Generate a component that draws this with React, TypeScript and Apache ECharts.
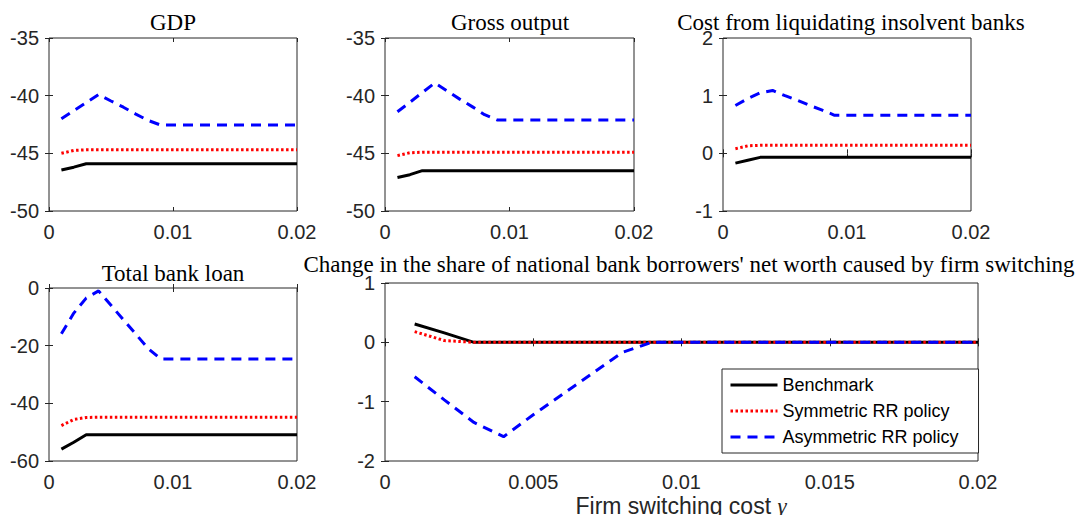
import React, { useEffect, useRef } from "react";
import * as echarts from "echarts";

const X = [0.001, 0.002, 0.003, 0.004, 0.005, 0.006, 0.007, 0.008, 0.009, 0.01, 0.011, 0.012, 0.013, 0.014, 0.015, 0.016, 0.017, 0.018, 0.019, 0.02];

const SERIES_NAMES = ["Benchmark", "Symmetric RR policy", "Asymmetric RR policy"];

const gdpBench = [-46.45, -46.2, -45.9, -45.9, -45.9, -45.9, -45.9, -45.9, -45.9, -45.9, -45.9, -45.9, -45.9, -45.9, -45.9, -45.9, -45.9, -45.9, -45.9, -45.9];
const gdpSym = [-45.0, -44.75, -44.7, -44.7, -44.7, -44.7, -44.7, -44.7, -44.7, -44.7, -44.7, -44.7, -44.7, -44.7, -44.7, -44.7, -44.7, -44.7, -44.7, -44.7];
const gdpAsym = [-42.0, -41.3, -40.6, -39.9, -40.46, -41.0, -41.6, -42.15, -42.55, -42.55, -42.55, -42.55, -42.55, -42.55, -42.55, -42.55, -42.55, -42.55, -42.55, -42.55];

const grossBench = [-47.1, -46.85, -46.5, -46.5, -46.5, -46.5, -46.5, -46.5, -46.5, -46.5, -46.5, -46.5, -46.5, -46.5, -46.5, -46.5, -46.5, -46.5, -46.5, -46.5];
const grossSym = [-45.2, -44.95, -44.9, -44.9, -44.9, -44.9, -44.9, -44.9, -44.9, -44.9, -44.9, -44.9, -44.9, -44.9, -44.9, -44.9, -44.9, -44.9, -44.9, -44.9];
const grossAsym = [-41.4, -40.57, -39.73, -38.9, -39.6, -40.3, -40.95, -41.65, -42.1, -42.1, -42.1, -42.1, -42.1, -42.1, -42.1, -42.1, -42.1, -42.1, -42.1, -42.1];

const costBench = [-0.17, -0.12, -0.07, -0.07, -0.07, -0.07, -0.07, -0.07, -0.07, -0.07, -0.07, -0.07, -0.07, -0.07, -0.07, -0.07, -0.07, -0.07, -0.07, -0.07];
const costSym = [0.08, 0.13, 0.14, 0.14, 0.14, 0.14, 0.14, 0.14, 0.14, 0.14, 0.14, 0.14, 0.14, 0.14, 0.14, 0.14, 0.14, 0.14, 0.14, 0.14];
const costAsym = [0.83, 0.95, 1.05, 1.09, 1.0, 0.92, 0.83, 0.75, 0.66, 0.66, 0.66, 0.66, 0.66, 0.66, 0.66, 0.66, 0.66, 0.66, 0.66, 0.66];

const loanBench = [-55.9, -53.5, -50.9, -50.9, -50.9, -50.9, -50.9, -50.9, -50.9, -50.9, -50.9, -50.9, -50.9, -50.9, -50.9, -50.9, -50.9, -50.9, -50.9, -50.9];
const loanSym = [-47.7, -45.6, -44.9, -44.8, -44.8, -44.8, -44.8, -44.8, -44.8, -44.8, -44.8, -44.8, -44.8, -44.8, -44.8, -44.8, -44.8, -44.8, -44.8, -44.8];
const loanAsym = [-15.9, -8.7, -3.5, -1.0, -6.0, -11.0, -16.0, -21.0, -24.6, -24.6, -24.6, -24.6, -24.6, -24.6, -24.6, -24.6, -24.6, -24.6, -24.6, -24.6];

const shareBench = [0.31, 0.16, 0, 0, 0, 0, 0, 0, 0, 0, 0, 0, 0, 0, 0, 0, 0, 0, 0, 0];
const shareSym = [0.18, 0.03, 0, 0, 0, 0, 0, 0, 0, 0, 0, 0, 0, 0, 0, 0, 0, 0, 0, 0];
const shareAsym = [-0.58, -0.97, -1.35, -1.59, -1.22, -0.87, -0.52, -0.17, 0, 0, 0, 0, 0, 0, 0, 0, 0, 0, 0, 0];

const TITLES = [
  "GDP",
  "Gross output",
  "Cost from liquidating insolvent banks",
  "Total bank loan",
  "Change in the share of national bank borrowers' net worth caused by firm switching",
];
const X_LABEL = "Firm switching cost";

// axis ranges: [min, max, interval]
const Y_RANGES = [
  [-50, -35, 5],
  [-50, -35, 5],
  [-1, 2, 1],
  [-60, 0, 20],
  [-2, 1, 1],
];
const X_RANGES = [
  [0, 0.02, 0.01],
  [0, 0.02, 0.01],
  [0, 0.02, 0.01],
  [0, 0.02, 0.01],
  [0, 0.02, 0.005],
];

const PANEL_DATA = [
  [gdpBench, gdpSym, gdpAsym],
  [grossBench, grossSym, grossAsym],
  [costBench, costSym, costAsym],
  [loanBench, loanSym, loanAsym],
  [shareBench, shareSym, shareAsym],
];

const GRIDS = [
  { left: 49, top: 38, width: 248, height: 173 },
  { left: 385, top: 38, width: 249, height: 173 },
  { left: 723, top: 38, width: 248, height: 173 },
  { left: 49, top: 288, width: 248, height: 173 },
  { left: 385, top: 283, width: 593, height: 178 },
];
const TITLE_POS = [
  [173, 22],
  [510, 22],
  [851, 22],
  [173, 273],
  [689, 264],
];

const AXIS_COLOR = "#262626";
const LINE_STYLES: any[] = [
  { color: "#000000", width: 3, type: "solid" },
  { color: "#ff0000", width: 3, type: [2.5, 2.5], cap: "butt" },
  { color: "#0000ff", width: 3, type: [10, 7], cap: "butt" },
];

const fmt = (v: number) => String(+v.toFixed(4));

export default function App() {
  const ref = useRef<HTMLDivElement>(null);
  useEffect(() => {
    if (!ref.current) return;
    const chart = echarts.init(ref.current, undefined, { renderer: "svg" });
    const grid = GRIDS.map((g) => ({
      ...g,
      show: true,
      borderColor: AXIS_COLOR,
      borderWidth: 1,
      backgroundColor: "#ffffff",
      containLabel: false,
    }));
    const xAxis: any[] = [];
    const yAxis: any[] = [];
    const labelStyle = { color: AXIS_COLOR, fontSize: 20, fontFamily: "Liberation Sans, Arial, sans-serif" };
    for (let i = 0; i < 5; i++) {
      const [xmin, xmax, xint] = X_RANGES[i];
      xAxis.push({
        type: "value", gridIndex: i, position: "bottom", min: xmin, max: xmax, interval: xint,
        axisLine: { show: false }, splitLine: { show: false },
        axisTick: { show: true, inside: true, length: 4, lineStyle: { color: AXIS_COLOR } },
        axisLabel: { ...labelStyle, margin: 11, formatter: fmt, showMinLabel: true, showMaxLabel: true },
      });
    }
    for (let i = 0; i < 5; i++) {
      const [xmin, xmax, xint] = X_RANGES[i];
      xAxis.push({
        type: "value", gridIndex: i, position: "top", min: xmin, max: xmax, interval: xint,
        axisLine: { show: false }, splitLine: { show: false },
        axisTick: { show: true, inside: true, length: 4, lineStyle: { color: AXIS_COLOR } },
        axisLabel: { show: false },
      });
    }
    for (let i = 0; i < 5; i++) {
      const [ymin, ymax, yint] = Y_RANGES[i];
      yAxis.push({
        type: "value", gridIndex: i, position: "left", min: ymin, max: ymax, interval: yint,
        axisLine: { show: false }, splitLine: { show: false },
        axisTick: { show: true, inside: true, length: 4, lineStyle: { color: AXIS_COLOR } },
        axisLabel: { ...labelStyle, margin: 10, formatter: fmt, showMinLabel: true, showMaxLabel: true },
      });
    }
    for (let i = 0; i < 5; i++) {
      const [ymin, ymax, yint] = Y_RANGES[i];
      yAxis.push({
        type: "value", gridIndex: i, position: "right", min: ymin, max: ymax, interval: yint,
        axisLine: { show: false }, splitLine: { show: false },
        axisTick: { show: true, inside: true, length: 4, lineStyle: { color: AXIS_COLOR } },
        axisLabel: { show: false },
      });
    }
    const series: any[] = [];
    for (let i = 0; i < 5; i++) {
      for (let s = 0; s < 3; s++) {
        series.push({
          type: "line",
          name: SERIES_NAMES[s],
          xAxisIndex: i,
          yAxisIndex: i,
          data: X.map((x, k) => [x, PANEL_DATA[i][s][k]]),
          symbol: "none",
          lineStyle: LINE_STYLES[s],
          itemStyle: { color: LINE_STYLES[s].color },
          z: 2 + s,
        });
      }
    }
    const graphic: any[] = TITLES.map((t, i) => ({
      type: "text",
      x: TITLE_POS[i][0],
      y: TITLE_POS[i][1],
      style: {
        text: t,
        fill: "#000000",
        font: '23px "Liberation Serif", "Times New Roman", serif',
        textAlign: "center",
        textVerticalAlign: "middle",
      },
    }));
    graphic.push({
      type: "text",
      x: 681,
      y: 506,
      style: {
        text: "{a|" + X_LABEL + " }{g|γ}",
        textAlign: "center",
        textVerticalAlign: "middle",
        rich: {
          a: { fontSize: 23, fontFamily: "Liberation Sans, Arial, sans-serif", fill: AXIS_COLOR, color: AXIS_COLOR },
          g: { fontSize: 23, fontFamily: "Liberation Serif, serif", fontStyle: "italic", fill: AXIS_COLOR, color: AXIS_COLOR },
        },
      },
    });
    chart.setOption({
      animation: false,
      backgroundColor: "#ffffff",
      grid,
      xAxis,
      yAxis,
      series,
      graphic,
      legend: {
        show: true,
        orient: "vertical",
        left: 722,
        top: 369,
        backgroundColor: "#ffffff",
        borderColor: AXIS_COLOR,
        borderWidth: 1,
        borderRadius: 0,
        padding: [7, 20, 7, 7],
        itemWidth: 47,
        itemHeight: 14,
        itemGap: 8,
        selectedMode: false,
        itemStyle: { opacity: 0 },
        lineStyle: { width: 3 },
        data: SERIES_NAMES,
        textStyle: { fontSize: 18, fontFamily: "Liberation Sans, Arial, sans-serif", color: "#000000" },
      },
    });
    return () => chart.dispose();
  }, []);
  return <div ref={ref} style={{ position: "fixed", left: 0, top: 0, width: 1078, height: 515 }} />;
}
